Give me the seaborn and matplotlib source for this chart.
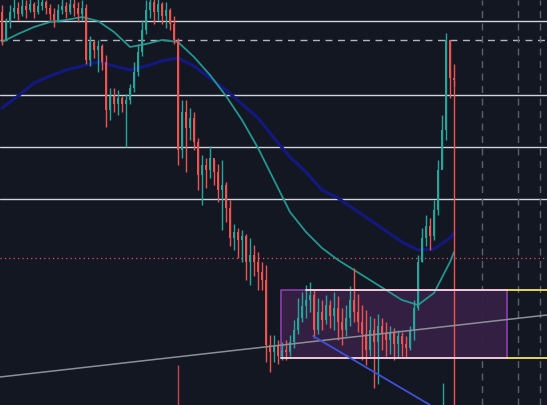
import numpy as np
import pandas as pd
import matplotlib
matplotlib.use("Agg")
import matplotlib.pyplot as plt
import seaborn as sns

# candle data (first open, then closes / highs / lows)
first_open = 393
closes = [365, 383, 393, 397, 391, 399, 395, 401, 393, 399, 403, 397, 391, 385, 395, 399,
          393, 401, 397, 391, 397, 345, 363, 355, 359, 343, 295, 309, 301, 307, 301, 305,
          317, 333, 353, 375, 395, 403, 393, 401, 389, 395, 381, 365, 255, 293, 277, 287,
          263, 230, 240, 235, 247, 233, 215, 220, 197, 167, 173, 165, 169, 143, 150, 143,
          133, 125, 60, 53, 59, 49, 55, 53, 63, 75, 87, 99, 105, 110, 75, 93,
          85, 100, 89, 97, 83, 75, 87, 105, 93, 83, 71, 55, 75, 63, 79, 71,
          65, 73, 61, 69, 61, 57, 75, 97, 143, 167, 179, 169, 195, 235, 275, 365,
          327, 325]
highs = [400, 387, 400, 410, 403, 408, 405, 410, 403, 407, 411, 405, 401, 397, 401, 409,
         403, 409, 407, 403, 405, 401, 369, 365, 365, 361, 350, 317, 317, 315, 309, 311,
         321, 343, 361, 385, 405, 411, 407, 409, 403, 403, 397, 389, 367, 305, 305, 297,
         293, 267, 250, 247, 259, 245, 241, 245, 223, 205, 181, 177, 175, 171, 167, 160,
         153, 143, 140, 70, 70, 65, 63, 65, 70, 85, 107, 113, 120, 123, 115, 107,
         105, 110, 105, 113, 109, 97, 100, 119, 137, 111, 100, 95, 89, 87, 91, 87,
         83, 79, 77, 75, 73, 69, 79, 105, 150, 177, 190, 187, 205, 245, 290, 372,
         365, 341]
lows = [360, 365, 377, 387, 385, 389, 387, 393, 387, 391, 395, 391, 385, 378, 383, 391,
        387, 391, 389, 383, 385, 341, 339, 347, 333, 335, 278, 285, 293, 290, 293, 258,
        301, 313, 329, 349, 371, 387, 381, 385, 381, 377, 375, 361, 240, 247, 233, 265,
        255, 215, 200, 217, 227, 220, 203, 175, 183, 159, 155, 147, 143, 125, 120, 129,
        115, 115, 43, 33, 43, 41, 45, 45, 49, 57, 71, 83, 87, 93, 67, 71,
        75, 81, 77, 75, 65, 60, 69, 79, 83, 73, 45, 40, 49, 17, 21, 55,
        49, 51, 45, 47, 49, 47, 55, 65, 95, 143, 159, 155, 165, 190, 237, 265,
        307, 319]

# moving averages, read every 4th candle
ma_idx = [0, 4, 8, 12, 16, 20, 24, 28, 32, 36, 40, 44, 48, 52, 56, 60, 64, 68, 72,
          76, 80, 84, 88, 92, 96, 100, 104, 108, 112, 113]
ma_fast = [363, 371, 378, 383, 385, 388, 384, 373, 358, 361, 365, 363, 348, 330, 309,
           285, 257, 225, 193, 173, 157, 145, 135, 125, 115, 105, 100, 112, 143, 153]
ma_slow = [297, 309, 322, 329, 335, 339, 343, 339, 335, 339, 344, 347, 339, 327, 315,
           301, 287, 267, 248, 233, 215, 207, 196, 185, 174, 163, 155, 156, 167, 172]

# drawn levels
levels = [384, 310, 258, 206]
dashed_level = 365
dotted_level = 147
box_top, box_bottom = 115, 47
box_left, box_right = 69.75, 126.25
future_marks = [120, 129, 134.5]

bg = "#131722"
up_col = "#26a69a"
down_col = "#ef5350"

sns.set_style("dark", {"axes.facecolor": bg, "figure.facecolor": bg})

n = len(closes)
opens = [first_open] + closes[:-1]
df = pd.DataFrame({"i": np.arange(n), "open": opens, "close": closes,
                   "high": highs, "low": lows})
df["up"] = df["close"] >= df["open"]
df["col"] = np.where(df["up"], up_col, down_col)

fig = plt.figure(figsize=(5.47, 4.05), dpi=100)
ax = fig.add_axes([0, 0, 1, 1])
ax.set_facecolor(bg)

# horizontal levels
for lv in levels:
    ax.axhline(lv, color="#d1d4dc", lw=1.0, zorder=1)
ax.axhline(dashed_level, color="#b2b5be", lw=1.0, ls=(0, (5, 4)), zorder=1)
ax.axhline(dotted_level, color="#e0525f", lw=0.9, ls=(0, (1, 2.5)), zorder=1)
for xm in future_marks:
    ax.axvline(xm, color="#5d606b", lw=1.0, ls=(0, (5, 4)), zorder=1)

# box
ax.fill_between([box_left, box_right], box_bottom, box_top, color="#352043", alpha=0.95,
                lw=0, zorder=1.5)
ax.plot([box_left, box_left, box_right, box_right],
        [box_bottom, box_top, box_top, box_bottom], color="#8e3db0", lw=1.2, zorder=1.6)
ax.plot([76, box_right], [box_top, box_top], color="#f3c7dc", lw=1.4, zorder=4)
ax.plot([box_left, box_right], [box_bottom, box_bottom], color="#f3c7dc", lw=1.4, zorder=4)
ax.plot([box_right, 137], [box_top, box_top], color="#f5e663", lw=1.3, zorder=4)
ax.plot([box_right, 137], [box_bottom, box_bottom], color="#f5e663", lw=1.3, zorder=4)

# candles
ax.vlines(df["i"], df["low"], df["high"], colors=df["col"], lw=1.0, zorder=3)
body = (df["close"] - df["open"]).abs().clip(lower=1)
ax.bar(df["i"], body, bottom=df[["open", "close"]].min(axis=1), width=0.5,
       color=df["col"], lw=0, zorder=3)
ax.vlines(n - 1, 0, df["close"].iloc[-1], colors=down_col, lw=1.0, zorder=3)
ax.vlines(44, 0, 40, colors=down_col, lw=1.0, alpha=0.8, zorder=3)
ax.vlines(110.25, 0, 22, colors=up_col, lw=1.0, zorder=3)

# moving averages
ma = pd.DataFrame({"i": ma_idx, "fast": ma_fast, "slow": ma_slow})
sns.lineplot(data=ma, x="i", y="slow", ax=ax, color="#131781", lw=2.2, zorder=2)
sns.lineplot(data=ma, x="i", y="fast", ax=ax, color="#23968f", lw=1.3, zorder=2)

# trend lines
ax.plot([-0.5, 136.25], [28, 90], color="#8c8f99", lw=1.1, zorder=4)
ax.plot([77.75, 107], [69, 0], color="#3f51d8", lw=1.3, zorder=4)

ax.set_xlim(-0.5, 136.25)
ax.set_ylim(0, 405)
ax.set_xticks([])
ax.set_yticks([])
ax.set_xlabel("")
ax.set_ylabel("")
for s in ax.spines.values():
    s.set_visible(False)

plt.savefig("out.png", dpi=100, facecolor=bg)
